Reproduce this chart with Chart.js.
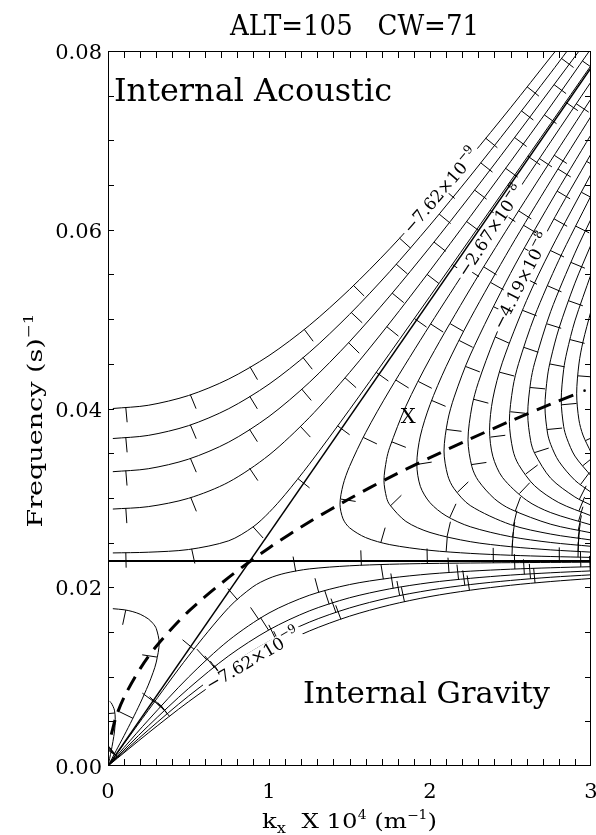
<!DOCTYPE html>
<html>
<head>
<meta charset="utf-8">
<script src="https://cdn.jsdelivr.net/npm/chart.js@4.4.1/dist/chart.umd.min.js"></script>
<style>
  html, body { margin: 0; padding: 0; background: #fff; }
  canvas { display: block; }
</style>
</head>
<body>
<canvas id="chart" width="596" height="835"></canvas>
<script>
// axis ticks
const xTickValues = [0, 1, 2, 3];
const xTickLabels = ['0', '1', '2', '3'];
const yTickValues = [0, 0.02, 0.04, 0.06, 0.08];
const yTickLabels = ['0.00', '0.02', '0.04', '0.06', '0.08'];

// contour lines, points are [k_x (x1e-4 m^-1), frequency (s^-1)]
// acoustic side (upper left), top one is the -7.62e-9 level
const acoustic2 = [[0.03,0.0400],[0.25,0.04036],[0.5,0.04145],[0.75,0.0433],[1.0,0.04592],[1.25,0.04929],[1.5,0.05332],[1.75,0.05787],[2.0,0.06284],[2.25,0.06812],[2.5,0.07364],[2.75,0.07933],[2.78,0.0800]];
const acoustic3 = [[0.03,0.03664],[0.25,0.03699],[0.5,0.03808],[0.75,0.03998],[1.0,0.04272],[1.25,0.04627],[1.5,0.05053],[1.75,0.05532],[2.0,0.06052],[2.25,0.06601],[2.5,0.07171],[2.75,0.07756],[2.852,0.0800]];
const acoustic4 = [[0.03,0.03293],[0.25,0.03326],[0.5,0.03433],[0.75,0.03624],[1.0,0.03911],[1.25,0.04291],[1.5,0.04747],[1.75,0.05258],[2.0,0.05806],[2.25,0.0638],[2.5,0.06971],[2.75,0.07574],[2.926,0.0800]];
const acoustic5 = [[0.03,0.02875],[0.25,0.02902],[0.5,0.02995],[0.75,0.03177],[1.0,0.03479],[1.25,0.03898],[1.5,0.04402],[1.75,0.04957],[2.0,0.05543],[2.25,0.06147],[2.5,0.06762],[2.75,0.07385],[2.99,0.0800]];
const acoustic6 = [[0.03,0.02384],[0.25,0.02392],[0.5,0.02422],[0.75,0.0252],[0.9,0.02674],[1.0,0.02836],[1.1,0.03037],[1.25,0.03376],[1.5,0.03987],[1.75,0.04618],[2.0,0.05256],[2.25,0.05899],[2.5,0.06544],[2.75,0.0719],[3.0,0.07837]];

// gravity side (below the horizontal line), bottom one is -7.62e-9 again
const gravity2 = [[0,0],[0.25,0.00369],[0.5,0.00719],[0.75,0.01032],[1.0,0.01297],[1.25,0.0151],[1.5,0.01676],[1.75,0.01801],[2.0,0.01896],[2.25,0.01967],[2.5,0.02022],[2.75,0.02064],[3.0,0.02098]];
const gravity3 = [[0,0],[0.25,0.00402],[0.5,0.00782],[0.75,0.01117],[1.0,0.01394],[1.25,0.01609],[1.5,0.01768],[1.75,0.01884],[2.0,0.01968],[2.25,0.0203],[2.5,0.02076],[2.75,0.02112],[3.0,0.02139]];
const gravity4 = [[0,0],[0.25,0.00448],[0.5,0.00867],[0.75,0.01233],[1.0,0.01523],[1.25,0.01735],[1.5,0.01882],[1.75,0.01982],[2.0,0.02052],[2.25,0.021],[2.5,0.02136],[2.75,0.02162],[3.0,0.02183]];
const gravity5 = [[0,0],[0.1,0.00207],[0.25,0.00513],[0.5,0.00994],[0.75,0.01406],[1.0,0.01712],[1.25,0.0191],[1.5,0.0203],[1.75,0.02102],[2.0,0.02149],[2.25,0.0218],[2.5,0.02202],[2.75,0.02218],[3.0,0.0223]];
const gravity6 = [[0,0],[0.1,0.0025],[0.25,0.00622],[0.5,0.0123],[0.75,0.01773],[0.9,0.02005],[1.0,0.021],[1.1,0.02157],[1.25,0.02205],[1.5,0.0224],[1.75,0.02257],[2.0,0.02266],[2.5,0.02275],[3.0,0.0228]];

// evanescent region, nested curves opening to the right (-2.67e-8 ... )
const evan7 = [[3.0,0.02334],[2.75,0.02344],[2.5,0.02358],[2.25,0.02379],[2.0,0.02413],[1.75,0.02477],[1.6,0.02556],[1.5,0.02666],[1.46,0.02765],[1.441,0.02929],[1.46,0.03145],[1.5,0.03351],[1.6,0.03729],[1.75,0.04207],[2.0,0.04935],[2.25,0.05632],[2.5,0.06313],[2.75,0.06986],[3.0,0.07654]];
const evan8 = [[3.0,0.02393],[2.75,0.02418],[2.5,0.02454],[2.25,0.0251],[2.0,0.02613],[1.85,0.02737],[1.75,0.02923],[1.73,0.03004],[1.714,0.03195],[1.73,0.03429],[1.75,0.03566],[1.85,0.04025],[2.0,0.04558],[2.25,0.05338],[2.5,0.06068],[2.75,0.06773],[3.0,0.07465]];
const evan9 = [[3.0,0.02458],[2.75,0.02501],[2.5,0.02566],[2.25,0.02677],[2.1,0.02799],[2.0,0.02946],[1.94,0.03129],[1.918,0.0338],[1.94,0.03692],[2.0,0.04043],[2.1,0.04469],[2.25,0.05005],[2.5,0.05803],[2.75,0.06549],[3.0,0.07269]];
const evan10 = [[3.0,0.02529],[2.75,0.02595],[2.5,0.02701],[2.25,0.02914],[2.15,0.03102],[2.11,0.03252],[2.087,0.03525],[2.11,0.03864],[2.15,0.04127],[2.25,0.04599],[2.5,0.05512],[2.75,0.06311],[3.0,0.07064]];
const evan11 = [[3.0,0.02609],[2.75,0.02705],[2.5,0.02874],[2.4,0.02991],[2.3,0.03193],[2.26,0.0335],[2.236,0.03649],[2.26,0.04018],[2.3,0.0429],[2.4,0.04779],[2.5,0.05181],[2.75,0.06056],[3.0,0.06849]];
const evan12 = [[3.0,0.02698],[2.75,0.02835],[2.6,0.02973],[2.45,0.03229],[2.39,0.03466],[2.37,0.03757],[2.39,0.04107],[2.45,0.04518],[2.6,0.05209],[2.75,0.05776],[3.0,0.06623]];
const evan13 = [[3.0,0.028],[2.8,0.02947],[2.65,0.03135],[2.55,0.03373],[2.515,0.03535],[2.493,0.03853],[2.515,0.04237],[2.55,0.04502],[2.65,0.05034],[2.8,0.05659],[3.0,0.06381]];
const evan14 = [[3.0,0.02919],[2.9,0.0301],[2.75,0.03219],[2.65,0.03499],[2.625,0.0364],[2.607,0.0394],[2.625,0.04295],[2.65,0.04511],[2.75,0.05087],[2.9,0.05738],[3.0,0.0612]];
const evan15 = [[3.0,0.03063],[2.9,0.03197],[2.8,0.0341],[2.75,0.03597],[2.73,0.03725],[2.714,0.0402],[2.73,0.04364],[2.75,0.04552],[2.8,0.04891],[2.9,0.05402],[3.0,0.05832]];
const evan16 = [[3.0,0.03247],[2.9,0.03468],[2.85,0.03666],[2.83,0.03801],[2.815,0.04094],[2.83,0.04434],[2.85,0.04631],[2.9,0.0498],[3.0,0.05502]];
const evan17 = [[3.0,0.03509],[2.95,0.03703],[2.925,0.03873],[2.911,0.04164],[2.925,0.04498],[2.95,0.04745],[3.0,0.05092]];
const evanDot = [[2.96,0.0420]];

// small closed lobes near the origin
const lobe7 = [[0.03,0.0176],[0.1,0.01748],[0.15,0.01729],[0.2,0.01698],[0.25,0.01646],[0.28,0.01594],[0.3,0.01537],[0.318,0.01376],[0.3,0.01163],[0.28,0.01046],[0.25,0.00905],[0.2,0.00702],[0.15,0.00517],[0.1,0.0034],[0.05,0.0017],[0,0]];
const lobe8 = [[0.01,0.00722],[0.02,0.00707],[0.04,0.00625],[0.045,0.0052],[0.04,0.00381],[0.02,0.00169],[0,0]];

// straight lines and the dashed ridge
const lambLine = [[0,0],[3.0,0.0781]];
const bruntLine = [[0,0.02294],[3.0,0.02294]];
const ridgeLine = [[0.02,0.0035],[0.05,0.0055],[0.1,0.0077],[0.2,0.0109],[0.3,0.0134],[0.5,0.0173],[0.75,0.0211],[1.0,0.0244],[1.25,0.0273],[1.5,0.0299],[1.75,0.0323],[2.0,0.0345],[2.25,0.0366],[2.5,0.0386],[2.75,0.0405],[2.92,0.0417]];

// contour labels sit on these curves
const contourLabels = [
  { curve: 'acoustic2', k: 2.07, text: '\u22127.62\u00d710', exp: '\u22129' },
  { curve: 'evan7', k: 2.38, text: '\u22122.67\u00d710', exp: '\u22128' },
  { curve: 'evan11', k: 2.57, text: '\u22124.19\u00d710', exp: '\u22128' },
  { curve: 'gravity2', k: 0.9, text: '\u22127.62\u00d710', exp: '\u22129' }
];

const FONT = '"DejaVu Serif", "Liberation Serif", serif';
const TICK_LEN = 15, TICK_GAP = 66, TICK_START = 13;

const toXY = arr => arr.map(([x, y]) => ({ x, y }));

// side: +1 puts ticks on the right of travel direction, -1 on the left
function contour(label, arr, side) {
  return {
    label, data: toXY(arr), showLine: true, tickSide: side,
    borderColor: '#000', borderWidth: 1, pointRadius: 0, tension: 0.3, fill: false
  };
}

const datasets = [
  contour('acoustic2', acoustic2, 1), contour('acoustic3', acoustic3, 1),
  contour('acoustic4', acoustic4, 1), contour('acoustic5', acoustic5, 1),
  contour('acoustic6', acoustic6, 1),
  contour('gravity2', gravity2, -1), contour('gravity3', gravity3, -1),
  contour('gravity4', gravity4, -1), contour('gravity5', gravity5, -1),
  contour('gravity6', gravity6, -1),
  contour('evan7', evan7, 1), contour('evan8', evan8, 1), contour('evan9', evan9, 1),
  contour('evan10', evan10, 1), contour('evan11', evan11, 1), contour('evan12', evan12, 1),
  contour('evan13', evan13, 1), contour('evan14', evan14, 1), contour('evan15', evan15, 1),
  contour('evan16', evan16, 1), contour('evan17', evan17, 1),
  contour('lobe7', lobe7, 1), contour('lobe8', lobe8, 1),
  { label: 'dot', data: toXY(evanDot), showLine: false, pointRadius: 1.3, backgroundColor: '#000', borderWidth: 0 },
  { label: 'lamb', data: toXY(lambLine), showLine: true, borderColor: '#000', borderWidth: 1.5, pointRadius: 0 },
  { label: 'brunt', data: toXY(bruntLine), showLine: true, borderColor: '#000', borderWidth: 2, pointRadius: 0 },
  { label: 'ridge', data: toXY(ridgeLine), showLine: true, borderColor: '#000', borderWidth: 3,
    borderDash: [15, 9], pointRadius: 0, tension: 0.3 }
];

// draw text made of pieces [text, size, dy], optionally squeezed to a width
function drawPieces(ctx, pieces, x, y, align, targetW) {
  let total = 0;
  const widths = pieces.map(([t, size]) => {
    ctx.font = size + 'px ' + FONT;
    const w = ctx.measureText(t).width;
    total += w;
    return w;
  });
  const s = targetW ? targetW / total : 1;
  ctx.save();
  ctx.translate(x, y);
  ctx.scale(s, 1);
  ctx.textAlign = 'left';
  let cx = align === 'center' ? -total / 2 : align === 'right' ? -total : 0;
  pieces.forEach(([t, size, dy], i) => {
    ctx.font = size + 'px ' + FONT;
    ctx.fillText(t, cx, dy || 0);
    cx += widths[i];
  });
  ctx.restore();
}

function pixelPath(chart, i) {
  return chart.getDatasetMeta(i).data.map(p => [p.x, p.y]);
}

// IDL style downhill ticks along every contour
const downhillTicks = {
  id: 'downhillTicks',
  afterDatasetsDraw(chart) {
    const { ctx, chartArea: a } = chart;
    ctx.save();
    ctx.beginPath();
    ctx.rect(a.left, a.top, a.right - a.left, a.bottom - a.top);
    ctx.clip();
    ctx.strokeStyle = '#000';
    ctx.lineWidth = 1;
    chart.data.datasets.forEach((ds, i) => {
      if (!ds.tickSide) return;
      const pts = pixelPath(chart, i);
      let next = TICK_START, run = 0;
      for (let j = 1; j < pts.length; j++) {
        const [x0, y0] = pts[j - 1], [x1, y1] = pts[j];
        const len = Math.hypot(x1 - x0, y1 - y0);
        if (!len) continue;
        const ux = (x1 - x0) / len, uy = (y1 - y0) / len;
        while (next <= run + len) {
          const t = next - run;
          const px = x0 + ux * t, py = y0 + uy * t;
          const nx = -uy * ds.tickSide, ny = ux * ds.tickSide;
          ctx.beginPath();
          ctx.moveTo(px, py);
          ctx.lineTo(px + nx * TICK_LEN, py + ny * TICK_LEN);
          ctx.stroke();
          next += TICK_GAP;
        }
        run += len;
      }
    });

    // contour value labels, rotated along their curve
    ctx.fillStyle = '#000';
    contourLabels.forEach(lb => {
      const idx = chart.data.datasets.findIndex(d => d.label === lb.curve);
      const pts = pixelPath(chart, idx);
      const xk = chart.scales.x.getPixelForValue(lb.k);
      let hit = null;
      for (let j = 1; j < pts.length; j++) {
        const [x0, y0] = pts[j - 1], [x1, y1] = pts[j];
        if ((x0 - xk) * (x1 - xk) <= 0 && x0 !== x1) {
          const t = (xk - x0) / (x1 - x0);
          let ang = Math.atan2(y1 - y0, x1 - x0);
          if (x1 < x0) ang += Math.PI;
          hit = { x: xk, y: y0 + t * (y1 - y0), ang };
        }
      }
      if (!hit) return;
      ctx.save();
      ctx.translate(hit.x, hit.y);
      ctx.rotate(hit.ang);
      ctx.font = '17px ' + FONT;
      const w1 = ctx.measureText(lb.text).width;
      ctx.font = '12px ' + FONT;
      const w2 = ctx.measureText(lb.exp).width;
      const W = w1 + w2;
      ctx.fillStyle = '#fff';
      ctx.fillRect(-W / 2 - 3, -8, W + 6, 15);
      ctx.fillStyle = '#000';
      ctx.textBaseline = 'middle';
      drawPieces(ctx, [[lb.text, 17, 1], [lb.exp, 12, -6]], 0, 0, 'center');
      ctx.restore();
    });
    ctx.restore();
  }
};

// frame, axis ticks, labels and texts
const frame = {
  id: 'frame',
  afterDraw(chart) {
    const { ctx, chartArea: a, scales: { x, y } } = chart;
    ctx.save();
    ctx.strokeStyle = '#000';
    ctx.lineWidth = 1;
    ctx.strokeRect(a.left + 0.5, a.top + 0.5, a.right - a.left - 1, a.bottom - a.top - 1);
    ctx.beginPath();
    for (let v = 0.1; v < 3; v += 0.1) {
      const px = Math.round(x.getPixelForValue(v)) + 0.5;
      ctx.moveTo(px, a.bottom); ctx.lineTo(px, a.bottom - 7);
      ctx.moveTo(px, a.top); ctx.lineTo(px, a.top + 7);
    }
    for (let v = 0.005; v < 0.08; v += 0.005) {
      const py = Math.round(y.getPixelForValue(v)) + 0.5;
      ctx.moveTo(a.left, py); ctx.lineTo(a.left + 6, py);
      ctx.moveTo(a.right, py); ctx.lineTo(a.right - 6, py);
    }
    ctx.stroke();

    ctx.fillStyle = '#000';
    ctx.textBaseline = 'alphabetic';
    yTickValues.forEach((v, i) => {
      drawPieces(ctx, [[yTickLabels[i], 21]], a.left - 6, y.getPixelForValue(v) + 8, 'right');
    });
    xTickValues.forEach((v, i) => {
      drawPieces(ctx, [[xTickLabels[i], 21]], x.getPixelForValue(v), a.bottom + 32, 'center');
    });

    drawPieces(ctx, [['k', 21], ['x', 14, 5], ['  X 10', 21], ['4', 12, -9], [' (m', 21], ['\u22121', 12, -9], [')', 21]],
      (a.left + a.right) / 2, 828, 'center', 175);

    ctx.save();
    ctx.translate(42, (a.top + a.bottom) / 2 + 12);
    ctx.rotate(-Math.PI / 2);
    drawPieces(ctx, [['Frequency (s)', 21], ['\u22121', 13, -9]], 0, 0, 'center', 214);
    ctx.restore();

    drawPieces(ctx, [['ALT=105   CW=71', 27]], 354.5, 35, 'center', 249);
    drawPieces(ctx, [['Internal Acoustic', 31]], a.left + 6, 101, 'left', 278);
    drawPieces(ctx, [['Internal Gravity', 29]], 303, 703, 'left', 247);

    ctx.textBaseline = 'middle';
    drawPieces(ctx, [['X', 21]], x.getPixelForValue(1.865), y.getPixelForValue(0.039), 'center');
    ctx.restore();
  }
};

new Chart(document.getElementById('chart'), {
  type: 'scatter',
  data: { datasets },
  options: {
    responsive: false,
    animation: false,
    layout: { padding: { left: 108, right: 5, top: 51, bottom: 69 } },
    scales: {
      x: { type: 'linear', min: 0, max: 3, display: false },
      y: { type: 'linear', min: 0, max: 0.08, display: false }
    },
    plugins: { legend: { display: false }, tooltip: { enabled: false } }
  },
  plugins: [downhillTicks, frame]
});
</script>
</body>
</html>
